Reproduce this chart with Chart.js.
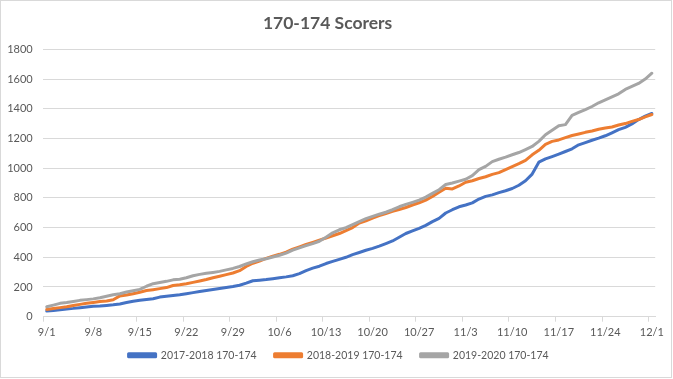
<!DOCTYPE html>
<html>
<head>
<meta charset="utf-8">
<script src="https://cdn.jsdelivr.net/npm/chart.js@4/dist/chart.umd.min.js"></script>
<style>
  html, body { margin: 0; padding: 0; background: #ffffff; }
  #wrap { position: absolute; left: 0; top: 0; width: 673px; height: 379px; }
</style>
</head>
<body>
<div id="wrap"><canvas id="c" width="673" height="379"></canvas></div>
<script>
const categories = [
  '9/1','9/2','9/3','9/4','9/5','9/6','9/7','9/8','9/9','9/10','9/11','9/12','9/13','9/14','9/15',
  '9/16','9/17','9/18','9/19','9/20','9/21','9/22','9/23','9/24','9/25','9/26','9/27','9/28','9/29','9/30',
  '10/1','10/2','10/3','10/4','10/5','10/6','10/7','10/8','10/9','10/10','10/11','10/12','10/13','10/14','10/15',
  '10/16','10/17','10/18','10/19','10/20','10/21','10/22','10/23','10/24','10/25','10/26','10/27','10/28','10/29','10/30','10/31',
  '11/1','11/2','11/3','11/4','11/5','11/6','11/7','11/8','11/9','11/10','11/11','11/12','11/13','11/14','11/15',
  '11/16','11/17','11/18','11/19','11/20','11/21','11/22','11/23','11/24','11/25','11/26','11/27','11/28','11/29','11/30',
  '12/1'
];

const series2017 = [
  38,42,47,52,56,61,66,70,72,76,80,86,95,104,110,116,121,132,138,143,148,155,162,170,177,183,190,197,203,212,
  226,242,246,250,256,262,268,276,290,310,327,340,358,372,386,400,418,432,447,460,475,492,510,535,560,578,595,615,640,662,698,
  720,740,752,766,792,810,820,835,848,863,885,915,960,1040,1062,1078,1095,1112,1130,1157,1172,1188,1202,1218,1238,1259,1275,1298,1327,1350,
  1368
];

const series2018 = [
  49,55,61,67,75,83,90,96,102,106,114,140,146,155,165,176,182,189,196,210,215,222,231,240,250,262,272,283,294,310,
  338,360,375,392,408,420,434,455,470,486,500,515,530,545,560,580,600,630,645,664,680,695,710,722,735,752,767,785,810,838,865,
  860,880,905,915,930,942,958,970,990,1010,1030,1052,1090,1120,1160,1180,1190,1205,1220,1230,1241,1250,1262,1270,1277,1290,1300,1315,1327,1345,
  1361
];

const series2019 = [
  67,78,90,95,102,110,115,120,128,138,148,155,166,175,184,205,222,230,238,248,252,262,276,285,292,298,305,315,325,338,
  355,370,382,390,402,414,428,448,463,478,492,508,535,565,585,600,620,640,660,675,690,703,720,740,756,770,785,805,830,855,890,
  900,913,925,950,990,1012,1044,1060,1074,1090,1105,1125,1146,1180,1225,1255,1286,1293,1355,1375,1394,1415,1440,1460,1480,1500,1530,1550,1570,1600,
  1639
];

const seriesNames = ['2017-2018 170-174', '2018-2019 170-174', '2019-2020 170-174'];
const yTicks = [0, 200, 400, 600, 800, 1000, 1200, 1400, 1600, 1800];
const tickEvery = 7;

const textColor = '#595959';
const gridColor = '#d9d9d9';
const fontFamily = 'Lato, "Open Sans", sans-serif';

const framePlugin = {
  id: 'frame',
  afterLayout(chart) {
    // place legend row where the reference has it
    const lg = chart.legend;
    if (lg) {
      const h = lg.height;
      lg.top = 332;
      lg.bottom = lg.top + h;
      lg.left += 11;
      lg.right += 11;
    }
  },
  afterDraw(chart) {
    const ctx = chart.ctx;
    ctx.save();
    ctx.strokeStyle = '#d9d9d9';
    ctx.lineWidth = 1;
    ctx.strokeRect(0.5, 0.5, 671, 377);
    ctx.restore();
  }
};

function mkDataset(label, data, color, order) {
  return {
    label: label,
    data: data,
    borderColor: color,
    backgroundColor: color,
    borderWidth: 3,
    pointRadius: 0,
    pointHoverRadius: 0,
    tension: 0,
    fill: false,
    borderJoinStyle: 'round',
    borderCapStyle: 'round',
    order: order
  };
}

new Chart(document.getElementById('c'), {
  type: 'line',
  data: {
    labels: categories,
    datasets: [
      mkDataset(seriesNames[0], series2017, '#4472C4', 2),
      mkDataset(seriesNames[1], series2018, '#ED7D31', 1),
      mkDataset(seriesNames[2], series2019, '#A5A5A5', 0)
    ]
  },
  options: {
    responsive: false,
    animation: false,
    devicePixelRatio: 1,
    layout: { padding: { left: 0, right: 17.8, top: 0, bottom: 0 } },
    plugins: {
      title: {
        display: true,
        text: '170-174 Scorers',
        color: textColor,
        font: { family: fontFamily, size: 17.5, weight: 'bold' },
        padding: { top: 13, bottom: 15.3 }
      },
      legend: {
        display: true,
        position: 'bottom',
        labels: {
          color: textColor,
          font: { family: fontFamily, size: 10.5 },
          boxWidth: 27,
          boxHeight: 3,
          padding: 18,
          sort: (a, b) => a.datasetIndex - b.datasetIndex
        }
      },
      tooltip: { enabled: false }
    },
    scales: {
      x: {
        type: 'category',
        offset: true,
        grid: {
          offset: true,
          display: true,
          drawOnChartArea: false,
          drawTicks: true,
          tickLength: 5,
          color: (c) => (c.index % tickEvery === 0 ? gridColor : 'rgba(0,0,0,0)'),
          tickColor: (c) => (c.index % tickEvery === 0 ? gridColor : 'rgba(0,0,0,0)')
        },
        border: { display: true, color: gridColor, width: 1 },
        ticks: {
          autoSkip: false,
          maxRotation: 0,
          minRotation: 0,
          padding: 4,
          color: textColor,
          font: { family: fontFamily, size: 11 },
          callback: function (val, idx) { return idx % tickEvery === 0 ? categories[idx] : ''; }
        },
        afterFit: (scale) => { scale.height = 23.8; }
      },
      y: {
        min: 0,
        max: 1800,
        afterBuildTicks: (scale) => { scale.ticks = yTicks.map(v => ({ value: v })); },
        grid: { color: gridColor, lineWidth: 1, drawTicks: false },
        border: { display: false },
        ticks: {
          padding: 10.7,
          color: textColor,
          font: { family: fontFamily, size: 11 },
          callback: (v) => String(v)
        },
        afterFit: (scale) => { scale.width = 43.4; }
      }
    }
  },
  plugins: [framePlugin]
});
</script>
</body>
</html>
